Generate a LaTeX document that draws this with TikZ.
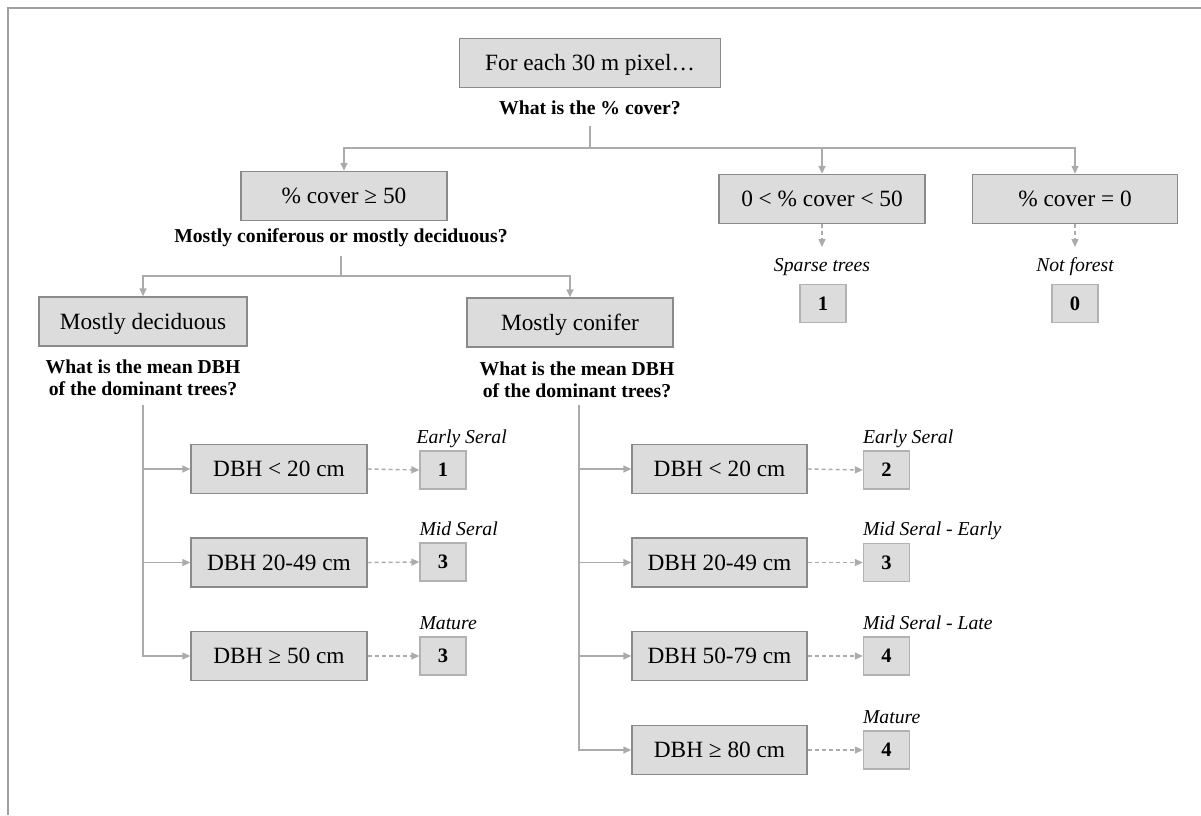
\documentclass[tikz,border=0pt]{standalone}
\usepackage{fontspec}
\setmainfont{Liberation Serif}
\usetikzlibrary{arrows.meta}
\definecolor{boxfill}{HTML}{DCDCDC}
\definecolor{boxline}{HTML}{8A8A8A}
\definecolor{linegray}{HTML}{ABABAB}
\definecolor{numline}{HTML}{B2B2B2}
\definecolor{framegray}{HTML}{A0A0A0}
\tikzset{
 mainbox/.style={draw=boxline, fill=boxfill, line width=1.4pt, minimum height=49pt, inner sep=0pt,
   text height=15.4pt, text depth=0pt, font=\fontsize{23.3}{28}\selectfont},
 numbox/.style={draw=numline, fill=boxfill, line width=1.4pt, minimum width=46pt, minimum height=38pt, inner sep=0pt,
   text height=13.8pt, text depth=0pt, font=\fontsize{20.5}{24}\selectfont\bfseries},
 question/.style={font=\fontsize{19.7}{22}\selectfont\bfseries, align=center, inner sep=0pt},
 stage/.style={font=\fontsize{19.7}{22}\selectfont\itshape, inner sep=0pt},
 connline/.style={draw=linegray, line width=1.4pt},
 arr/.style={connline, -{Triangle[length=8pt,width=7pt]}},
 darr/.style={arr, dash pattern=on 4pt off 3pt},
}
\begin{document}
\begin{tikzpicture}[x=1pt,y=-1pt]
\useasboundingbox (0,0) rectangle (1201,815);
\draw[framegray, line width=2pt] (1201,8) -- (8,8) -- (8,815);

% top
\node[mainbox, minimum width=261pt] (top) at (590,63) {For each 30 m pixel…};
\node[question] (q1) at (590,108) {What is the \% cover?};
\coordinate (t1) at (590,126);
\coordinate (j1) at (590,148);

\node[mainbox, minimum width=206pt] (a1) at (344,196) {\% cover ≥ 50};
\node[mainbox, minimum width=206pt] (a2) at (822,199) {0 < \% cover < 50};
\node[mainbox, minimum width=205pt] (a3) at (1075,199) {\% cover = 0};

\draw[connline] (t1) -- (j1);
\draw[arr] (j1) -| (a1.north);
\draw[arr] (j1) -| (a2.north);
\draw[arr] (j1) -| (a3.north);

% sparse / not forest
\coordinate (s1) at (822,247);
\coordinate (s2) at (1075,247);
\node[stage] (sp) at (822,267) {Sparse trees};
\node[stage] (nf) at (1075,267) {Not forest};
\node[numbox] (n1) at (823,303.5) {1};
\node[numbox] (n0) at (1075,303.5) {0};
\draw[darr] (a2.south) -- (s1);
\draw[darr] (a3.south) -- (s2);

% second level
\node[question] (q2) at (341,238) {Mostly coniferous or mostly deciduous?};
\coordinate (t2) at (341,256);
\coordinate (j2) at (341,276);
\node[mainbox, minimum width=208pt] (b1) at (143,321.5) {Mostly deciduous};
\node[mainbox, minimum width=206pt] (b2) at (570,322.5) {Mostly conifer};
\draw[connline] (t2) -- (j2);
\draw[arr] (j2) -| (b1.north);
\draw[arr] (j2) -| (b2.north);

\node[question] (q3) at (143,378) {What is the mean DBH\\of the dominant trees?};
\node[question] (q4) at (577,380) {What is the mean DBH\\of the dominant trees?};
\coordinate (t3) at (143,405);
\coordinate (t4) at (579,405);

% deciduous branch
\node[mainbox, minimum width=176pt] (d1) at (279,469) {DBH < 20 cm};
\node[mainbox, minimum width=176pt] (d2) at (279,562.5) {DBH 20-49 cm};
\node[mainbox, minimum width=176pt] (d3) at (279,656) {DBH ≥ 50 cm};
\node[numbox] (e1) at (443,470) {1};
\node[numbox] (e2) at (443,562) {3};
\node[numbox] (e3) at (443,656) {3};
\draw[arr] (t3) |- (d1.west);
\draw[arr] (t3) |- (d2.west);
\draw[arr] (t3) |- (d3.west);
\draw[darr] (d1.east) -- (e1.west);
\draw[darr] (d2.east) -- (e2.west);
\draw[darr] (d3.east) -- (e3.west);
\node[stage, anchor=base west] (le1) at ([yshift=7pt,xshift=-3pt]e1.north west) {Early Seral};
\node[stage, anchor=base west] (le2) at ([yshift=7pt]e2.north west) {Mid Seral};
\node[stage, anchor=base west] (le3) at ([yshift=7pt]e3.north west) {Mature};

% conifer branch
\node[mainbox, minimum width=175pt] (c1) at (719.5,469) {DBH < 20 cm};
\node[mainbox, minimum width=175pt] (c2) at (719.5,562.5) {DBH 20-49 cm};
\node[mainbox, minimum width=175pt] (c3) at (719.5,656) {DBH 50-79 cm};
\node[mainbox, minimum width=175pt] (c4) at (719.5,750) {DBH ≥ 80 cm};
\node[numbox] (f1) at (886.5,470) {2};
\node[numbox] (f2) at (886.5,562.5) {3};
\node[numbox] (f3) at (886.5,656) {4};
\node[numbox] (f4) at (886.5,750) {4};
\draw[arr] (t4) |- (c1.west);
\draw[arr] (t4) |- (c2.west);
\draw[arr] (t4) |- (c3.west);
\draw[arr] (t4) |- (c4.west);
\draw[darr] (c1.east) -- (f1.west);
\draw[darr] (c2.east) -- (f2.west);
\draw[darr] (c3.east) -- (f3.west);
\draw[darr] (c4.east) -- (f4.west);
\node[stage, anchor=base west] (lf1) at ([yshift=7pt]f1.north west) {Early Seral};
\node[stage, anchor=base west] (lf2) at ([yshift=7pt]f2.north west) {Mid Seral - Early};
\node[stage, anchor=base west] (lf3) at ([yshift=7pt]f3.north west) {Mid Seral - Late};
\node[stage, anchor=base west] (lf4) at ([yshift=7pt]f4.north west) {Mature};
\end{tikzpicture}
\end{document}
